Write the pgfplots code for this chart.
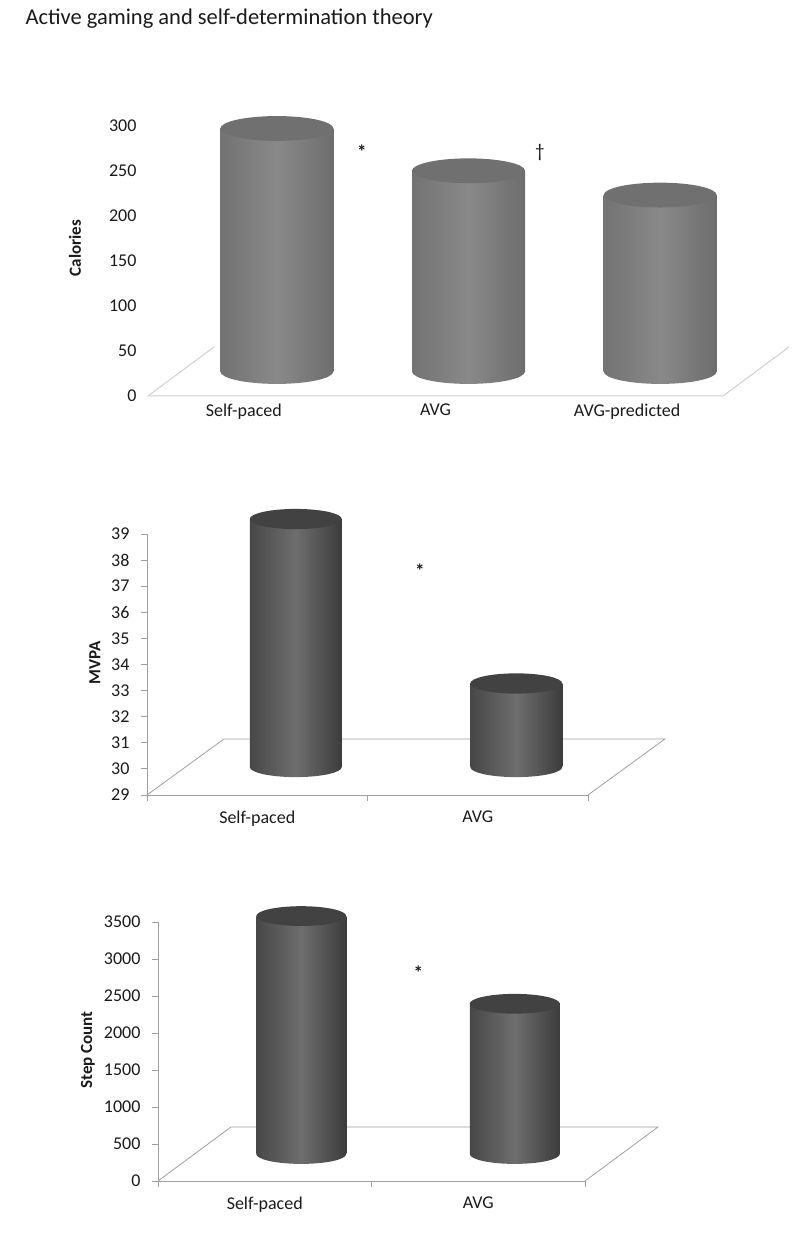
\documentclass[border=0pt]{standalone}
\usepackage{fontspec}
\setmainfont{Carlito}
\usepackage{pgfplots}
\usepackage{pgfplotstable}
\pgfplotsset{compat=1.18}

\pgfplotstableread{
x v
0 270
1 223
2 196
}\calories
\pgfplotstableread{
x v
0 38.5
1 32.2
}\mvpa
\pgfplotstableread{
x v
0 3215
1 2030
}\steps

\definecolor{floorA}{HTML}{CFCFCF}
\definecolor{floorB}{HTML}{A0A0A0}
\definecolor{bodyAL}{HTML}{737373}
\definecolor{bodyAM}{HTML}{898989}
\definecolor{bodyAR}{HTML}{6D6D6D}
\definecolor{capA}{HTML}{707070}
\definecolor{bodyBL}{HTML}{474747}
\definecolor{bodyBM}{HTML}{6E6E6E}
\definecolor{bodyBR}{HTML}{3C3C3C}
\definecolor{capB}{HTML}{424242}
\definecolor{txt}{HTML}{1A1A1A}

\def\captilt{4}
\pgfdeclareplotmark{cyltop}{%
  \path[draw=none, fill=\pgfkeysvalueof{/cyl/cap}, rotate=\captilt]
    (0pt,0pt) ellipse [x radius=\pgfplotmarksize, y radius=0.22*\pgfplotmarksize];}
\pgfdeclareplotmark{cylbotA}{%
  \path[draw=none, left color=bodyAL, right color=bodyAR, middle color=bodyAM, rotate=\captilt]
    (0pt,0pt) ellipse [x radius=\pgfplotmarksize, y radius=0.22*\pgfplotmarksize];}
\pgfdeclareplotmark{cylbotB}{%
  \path[draw=none, left color=bodyBL, right color=bodyBR, middle color=bodyBM, rotate=\captilt]
    (0pt,0pt) ellipse [x radius=\pgfplotmarksize, y radius=0.22*\pgfplotmarksize];}
\pgfkeys{/cyl/cap/.initial=capA}

\pgfplotsset{
  frame/.style={scale only axis, anchor=south west, clip=false,
    tick label style={font=\fontsize{18}{21.6}\selectfont, text=txt},
    yticklabel style={xshift=-8pt},
    /pgf/number format/assume math mode=true,
    /pgf/number format/1000 sep={},
    scaled y ticks=false,
    ylabel style={font=\bfseries\fontsize{17}{20}\selectfont, text=txt, anchor=center}},
  plane/.style={scale only axis, anchor=south west, hide axis},
  cylA/.style={ybar, bar width=113pt, bar shift=0pt, draw=none, left color=bodyAL, right color=bodyAR, middle color=bodyAM},
  cylB/.style={ybar, bar width=#1, bar shift=0pt, draw=none, left color=bodyBL, right color=bodyBR, middle color=bodyBM},
}

\begin{document}
\begin{tikzpicture}
\path[use as bounding box] (0pt,0pt) rectangle (800pt,1245pt);

\node[anchor=base west, font=\fontsize{22.5}{27}\selectfont, text=txt] at (22pt,1220pt) {Active gaming and self-determination theory};

% ---------------- Panel 1: Calories ----------------
\begin{axis}[frame, at={(148pt,849pt)}, width=575pt, height=270pt,
  xmin=-0.5, xmax=2.5, ymin=0, ymax=300,
  axis line style={draw=none}, tick style={draw=none},
  ytick={0,50,...,300},
  xtick={0,1,2}, xticklabels={Self-paced,AVG,AVG-predicted},
  xticklabel style={yshift=-4pt},
  ylabel={Calories}, ylabel style={at={(axis description cs:-0.127,0.548)}}]
\addplot[floorA, line width=1pt, mark=none] coordinates {(-0.156,54.4) (-0.5,0) (2.5,0) (2.844,54.4)};
\node[font=\bfseries\fontsize{19}{20}\selectfont, text=txt] at (axis cs:0.616,271) {*};
\node[font=\fontsize{19}{20}\selectfont, text=txt] at (axis cs:1.545,271) {\textdagger};
\end{axis}
\pgfkeys{/cyl/cap=capA}
\begin{axis}[plane, at={(181pt,873.5pt)}, width=575pt, height=270pt,
  xmin=-0.5, xmax=2.5, ymin=0, ymax=300, clip=false]
\addplot[only marks, mark=cylbotA, mark size=56.5pt] table[x=x, y expr=0]{\calories};
\addplot[cylA, restrict x to domain=-0.1:0.1] table[x=x, y=v]{\calories};
\addplot[cylA, restrict x to domain=0.9:1.1] table[x=x, y=v]{\calories};
\addplot[cylA, restrict x to domain=1.9:2.1] table[x=x, y=v]{\calories};
\addplot[only marks, mark=cyltop, mark size=56.5pt] table[x=x, y=v]{\calories};
\end{axis}

% ---------------- Panel 2: MVPA ----------------
\begin{axis}[frame, at={(147pt,450pt)}, width=441pt, height=261pt,
  xmin=-0.5, xmax=1.5, ymin=29, ymax=39,
  axis x line*=bottom, axis y line*=left,
  axis line style={floorB, line width=0.8pt, -},
  tick align=outside, major tick length=6pt,
  tick style={floorB, line width=0.8pt},
  ytick={29,30,...,39},
  xtick={-0.5,0.5,1.5}, xticklabels={},
  extra x ticks={0,1}, extra x tick labels={Self-paced,AVG},
  extra x tick style={major tick length=0pt, xticklabel style={yshift=-12pt}},
  ylabel={MVPA}, ylabel style={at={(axis description cs:-0.118,0.506)}}]
\addplot[floorB, line width=0.8pt, mark=none] coordinates {(-0.5,29) (-0.151,31.146) (1.849,31.146) (1.5,29)};
\node[font=\bfseries\fontsize{19}{20}\selectfont, text=txt] at (axis cs:0.738,37.6) {*};
\end{axis}
\pgfkeys{/cyl/cap=capB}
\begin{axis}[plane, at={(185.5pt,478pt)}, width=441pt, height=261pt,
  xmin=-0.5, xmax=1.5, ymin=29, ymax=39]
\addplot[only marks, mark=cylbotB, mark size=46pt] table[x=x, y expr=29]{\mvpa};
\addplot[cylB=92pt, restrict x to domain=-0.1:0.1] table[x=x, y=v]{\mvpa};
\addplot[cylB=92pt, restrict x to domain=0.9:1.1] table[x=x, y=v]{\mvpa};
\addplot[only marks, mark=cyltop, mark size=46pt] table[x=x, y=v]{\mvpa};
\end{axis}

% ---------------- Panel 3: Step Count ----------------
\begin{axis}[frame, at={(158pt,64pt)}, width=427pt, height=259pt,
  xmin=-0.5, xmax=1.5, ymin=0, ymax=3500,
  axis x line*=bottom, axis y line*=left,
  axis line style={floorB, line width=0.8pt, -},
  tick align=outside, major tick length=6pt,
  tick style={floorB, line width=0.8pt},
  ytick={0,500,...,3500},
  xtick={-0.5,0.5,1.5}, xticklabels={},
  extra x ticks={0,1}, extra x tick labels={Self-paced,AVG},
  extra x tick style={major tick length=0pt, xticklabel style={yshift=-12pt}},
  ylabel={Step Count}, ylabel style={at={(axis description cs:-0.164,0.506)}}]
\addplot[floorB, line width=0.8pt, mark=none] coordinates {(-0.5,0) (-0.158,730) (1.842,730) (1.5,0)};
\node[font=\bfseries\fontsize{19}{20}\selectfont, text=txt] at (axis cs:0.72,2820) {*};
\end{axis}
\begin{axis}[plane, at={(194.5pt,91pt)}, width=427pt, height=259pt,
  xmin=-0.5, xmax=1.5, ymin=0, ymax=3500, clip=false]
\addplot[only marks, mark=cylbotB, mark size=45pt] table[x=x, y expr=0]{\steps};
\addplot[cylB=90pt, restrict x to domain=-0.1:0.1] table[x=x, y=v]{\steps};
\addplot[cylB=90pt, restrict x to domain=0.9:1.1] table[x=x, y=v]{\steps};
\addplot[only marks, mark=cyltop, mark size=45pt] table[x=x, y=v]{\steps};
\end{axis}
\end{tikzpicture}
\end{document}
